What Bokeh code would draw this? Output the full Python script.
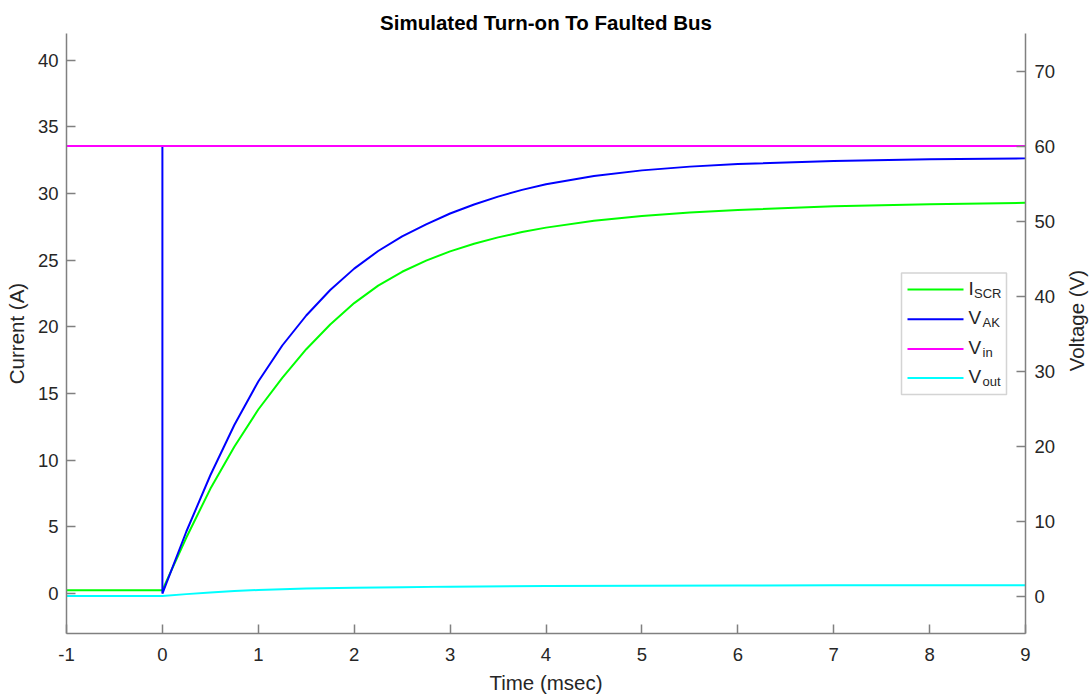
import math
from bokeh.plotting import figure
from bokeh.layouts import row
from bokeh.models import Range1d, LinearAxis, FixedTicker, BoxAnnotation, Label
from bokeh.embed import file_html
from bokeh.resources import INLINE

# ---------------- data ----------------
t_iscr = [-1.0, 0.0, 0.25, 0.5, 0.75, 1.0, 1.25, 1.5, 1.75, 2.0, 2.25, 2.5, 2.75, 3.0,
          3.25, 3.5, 3.75, 4.0, 4.5, 5.0, 5.5, 6.0, 7.0, 8.0, 9.0]
i_scr = [0.25, 0.25, 4.2, 7.85, 11.0, 13.8, 16.17, 18.32, 20.18, 21.78, 23.09, 24.13, 24.97, 25.66,
         26.23, 26.71, 27.11, 27.44, 27.95, 28.31, 28.57, 28.77, 29.04, 29.2, 29.3]

t_vak = [-1.0, 0.0, 0.0, 0.25, 0.5, 0.75, 1.0, 1.25, 1.5, 1.75, 2.0, 2.25, 2.5, 2.75, 3.0,
         3.25, 3.5, 3.75, 4.0, 4.5, 5.0, 5.5, 6.0, 7.0, 8.0, 9.0]
v_ak = [60.0, 60.0, 0.33, 8.6, 16.1, 22.8, 28.6, 33.4, 37.4, 40.8, 43.65, 46.0, 47.95, 49.55, 51.0,
        52.2, 53.25, 54.15, 54.9, 56.0, 56.75, 57.25, 57.6, 58.0, 58.22, 58.35]

t_vin = [-1.0, 9.0]
v_in = [60.0, 60.0]

t_vout = [-1.0, 0.0, 0.25, 0.5, 0.75, 1.0, 1.5, 2.0, 2.5, 3.0, 4.0, 5.0, 6.0, 7.0, 8.0, 9.0]
v_out = [0.0, 0.0, 0.25, 0.48, 0.66, 0.8, 0.99, 1.1, 1.18, 1.25, 1.33, 1.37, 1.4, 1.42, 1.43, 1.44]

x_ticks = [-1, 0, 1, 2, 3, 4, 5, 6, 7, 8, 9]
i_ticks = [0, 5, 10, 15, 20, 25, 30, 35, 40]
v_ticks = [0, 10, 20, 30, 40, 50, 60, 70]

legend_labels = [("I", "SCR"), ("V", "AK"), ("V", "in"), ("V", "out")]
colors = ["#00ff00", "#0000ff", "#ff00ff", "#00ffff"]

# ---------------- layout ----------------
XMIN, XMAX = -1, 9
IMIN, IMAX = -3, 42
VMIN, VMAX = -5, 75
FRAME_W, FRAME_H = 959, 600
FONT = "Liberation Sans"
AXIS_GRAY = "#808080"
TEXT_COL = "#262626"
MAIN_W, SIDE_W, TOTAL_H = 1060, 31, 696

p = figure(width=MAIN_W, height=TOTAL_H,
           x_range=Range1d(XMIN, XMAX), y_range=Range1d(IMIN, IMAX),
           output_backend="svg", toolbar_location=None,
           min_border_left=66, min_border_right=MAIN_W - 66 - FRAME_W,
           min_border_top=33, min_border_bottom=63,
           title="Simulated Turn-on To Faulted Bus")
p.extra_y_ranges = {"volt": Range1d(VMIN, VMAX)}
p.outline_line_color = None
p.background_fill_color = "white"
p.border_fill_color = "white"
p.xgrid.visible = False
p.ygrid.visible = False

p.title.align = "center"
p.title.text_font = FONT
p.title.text_font_size = "20.5px"
p.title.text_font_style = "bold"
p.title.text_color = "black"
p.title.standoff = 0
p.title.offset = 0

right_axis = LinearAxis(y_range_name="volt")
p.add_layout(right_axis, "right")


def style_axis(ax, ticks, label, tick_standoff, label_standoff):
    ax.ticker = FixedTicker(ticks=ticks)
    ax.major_label_overrides = {t: str(t) for t in ticks}
    ax.axis_label = label
    ax.axis_label_text_font = FONT
    ax.axis_label_text_font_size = "20.5px"
    ax.axis_label_text_font_style = "normal"
    ax.axis_label_text_color = TEXT_COL
    ax.axis_label_standoff = label_standoff
    ax.major_label_text_font = FONT
    ax.major_label_text_font_size = "18.5px"
    ax.major_label_text_color = TEXT_COL
    ax.major_label_standoff = tick_standoff
    ax.axis_line_color = AXIS_GRAY
    ax.axis_line_width = 1.5
    ax.major_tick_line_color = AXIS_GRAY
    ax.major_tick_line_width = 1.5
    ax.major_tick_in = 9
    ax.major_tick_out = 0
    ax.minor_tick_line_color = None


style_axis(p.xaxis[0], x_ticks, "Time (msec)", 14, 7)
style_axis(p.yaxis[0], i_ticks, "Current (A)", 8, 7)
style_axis(right_axis, v_ticks, None, 9, 7)

# ---------------- series ----------------
p.line(t_iscr, i_scr, line_color=colors[0], line_width=2)
p.line(t_vak, v_ak, line_color=colors[1], line_width=2, y_range_name="volt")
p.line(t_vin, v_in, line_color=colors[2], line_width=2, y_range_name="volt")
p.line(t_vout, v_out, line_color=colors[3], line_width=2, y_range_name="volt")


# ---------------- legend (drawn by hand for subscripts) ----------------
def px_x(px):
    return XMIN + px / FRAME_W * (XMAX - XMIN)


def px_y(py):
    return IMAX - py / FRAME_H * (IMAX - IMIN)


box_l, box_r, box_t, box_b = 835, 940, 239.5, 361
p.add_layout(BoxAnnotation(left=px_x(box_l), right=px_x(box_r),
                           top=px_y(box_t), bottom=px_y(box_b),
                           fill_color="white", fill_alpha=1.0,
                           line_color="#707070", line_width=1.5,
                           level="underlay"))

row_y = [256, 285.7, 315.4, 344.4]
line_x0, line_x1, text_x = 841, 897, 902
for (main, sub), col, ry in zip(legend_labels, colors, row_y):
    p.line([px_x(line_x0), px_x(line_x1)], [px_y(ry), px_y(ry)],
           line_color=col, line_width=2)
    p.add_layout(Label(x=px_x(text_x), y=px_y(ry), y_offset=1.5,
                       text=main, text_font=FONT, text_font_size="19px",
                       text_color=TEXT_COL, text_baseline="alphabetic",
                       text_align="left"))
    sub_dx = 5.5 if main == "I" else 14
    p.add_layout(Label(x=px_x(text_x), y=px_y(ry), x_offset=sub_dx, y_offset=-3.5,
                       text=sub, text_font=FONT, text_font_size="13px",
                       text_color=TEXT_COL, text_baseline="alphabetic",
                       text_align="left"))

# ---------------- narrow side panel holding the right-hand axis label ----------------
side = figure(width=SIDE_W, height=TOTAL_H, x_range=Range1d(0, 1), y_range=Range1d(0, 1),
              output_backend="svg", toolbar_location=None,
              x_axis_location=None, y_axis_location=None,
              min_border_left=0, min_border_right=0, min_border_top=0, min_border_bottom=0)
side.outline_line_color = None
side.background_fill_color = "white"
side.border_fill_color = "white"
side.xgrid.visible = False
side.ygrid.visible = False
frame_mid = 1 - (33 + FRAME_H / 2) / TOTAL_H
side.add_layout(Label(x=0.5, y=frame_mid, text="Voltage (V)", angle=math.pi / 2,
                      text_font=FONT, text_font_size="20.5px", text_color=TEXT_COL,
                      text_align="center", text_baseline="middle"))

layout = row(p, side, spacing=0)
open("out.html", "w").write(file_html(layout, INLINE))
